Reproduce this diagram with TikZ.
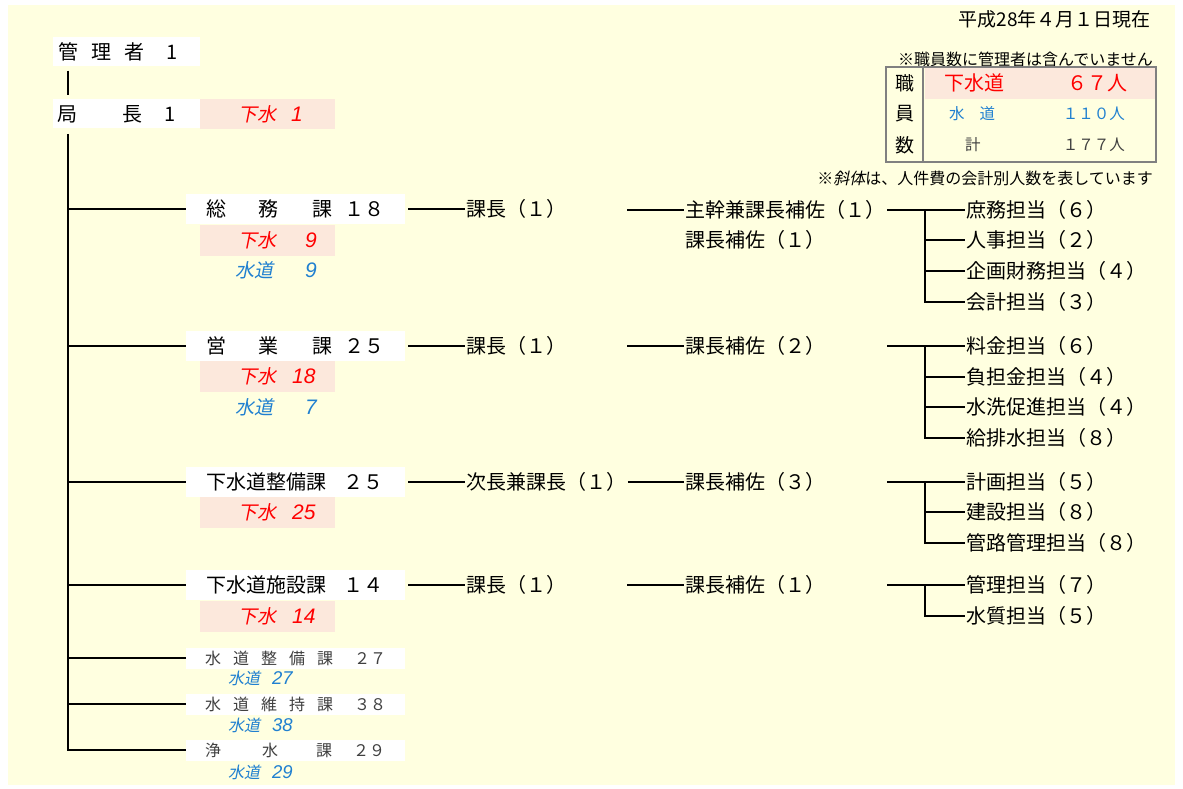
\documentclass[tikz,border=0pt]{standalone}
\usepackage{fontspec}
\setmainfont{Noto Sans CJK JP}
\newfontfamily\slfont{Noto Sans CJK JP}[FakeSlant=0.2]
\newfontfamily\numfont{Liberation Sans}
\usetikzlibrary{positioning}
\definecolor{bgyel}{HTML}{FFFFE0}
\definecolor{pinkbg}{HTML}{FCE8DC}
\definecolor{redtxt}{HTML}{FF0000}
\definecolor{bluetxt}{HTML}{2080D0}
\definecolor{graytxt}{HTML}{404040}
\definecolor{tblgray}{HTML}{808080}
\newcommand{\fs}[1]{\fontsize{#1}{#1}\selectfont}
\newcommand{\gn}[2][21]{{\numfont\itshape\fs{#1}#2}}

\begin{document}
\begin{tikzpicture}[x=1pt,y=-1pt,
  conn/.style={line width=2pt},
  topbox/.style={fill=white,anchor=west,minimum height=29pt,text width=147pt,inner sep=0pt,align=left,font=\fs{20}},
  secbox/.style={fill=white,anchor=west,minimum height=30pt,text width=219pt,inner sep=0pt,align=left,font=\fs{20}},
  smallbox/.style={fill=white,anchor=west,minimum height=21pt,text width=219pt,inner sep=0pt,align=left,font=\fs{16},text=graytxt},
  genbox/.style={fill=pinkbg,anchor=north west,minimum height=31pt,text width=135pt,inner sep=0pt,align=left,font=\slfont\fs{19},text=redtxt},
  suido/.style={anchor=west,inner sep=0pt,font=\slfont\fs{19},text=bluetxt},
  suido_s/.style={suido,font=\slfont\fs{16}},
  lbl/.style={anchor=west,inner sep=1pt,font=\fs{20}},
  note/.style={anchor=east,inner sep=0pt,font=\fs{16}},
  tcell/.style={inner sep=0pt,font=\fs{19}}]
\useasboundingbox (0,0) rectangle (1183,789);
\fill[white] (0,0) rectangle (1183,789);
\fill[bgyel] (8,5) rectangle (1175,785);

\node[note,font=\fs{19}] (date) at (1151,19) {平成28年４月１日現在};
\node[note] (note_1) at (1153,59) {※職員数に管理者は含んでいません};
\node[note] (note_2) at (1153,178) {※{\slfont 斜体}は、人件費の会計別人数を表しています};

\fill[pinkbg] (925,68) rectangle (1155,99);
\node[draw=tblgray,line width=2.5pt,minimum width=270pt,minimum height=95pt,inner sep=0pt] (tbl) at (1021,114.5) {};
\draw[tblgray,line width=2pt] ([xshift=38pt]tbl.north west) -- ([xshift=38pt]tbl.south west);
\node[tcell] (tbl_1) at (905,83) {職};
\node[tcell] (tbl_2) at (905,114) {員};
\node[tcell] (tbl_3) at (905,145) {数};
\node[tcell,anchor=west,text=redtxt,font=\fs{20}] (tbl_g) at (944,83) {下水道};
\node[tcell,anchor=east,text=redtxt,font=\fs{20}] (tbl_gn) at (1128,83) {６７人};
\node[tcell,anchor=west,text=bluetxt,font=\fs{15.5}] (tbl_s) at (949,114) {水\hspace{15pt}道};
\node[tcell,anchor=east,text=bluetxt,font=\fs{15.5}] (tbl_sn) at (1125,114) {１１０人};
\node[tcell,anchor=west,text=graytxt,font=\fs{15.5}] (tbl_k) at (965,145) {計};
\node[tcell,anchor=east,text=graytxt,font=\fs{15.5}] (tbl_kn) at (1125,145) {１７７人};

\node[topbox] (kanri) at (53,52) {\hspace*{5pt}管\hspace{13pt}理\hspace{13pt}者\hspace{22pt}1};
\node[topbox] (kyoku) at (53,114) {\hspace*{4pt}局\hspace{45pt}長\hspace{22pt}1};
\node[genbox,anchor=west,minimum height=30pt] (kyoku_g) at (200,114) {\hspace*{38pt}下水\hspace{15pt}\gn{1}};
\draw[conn] ([xshift=15pt,yshift=-4pt]kanri.south west) -- ([xshift=15pt,yshift=4pt]kyoku.north west);
\coordinate (trunk) at (68,134);

\node[secbox] (somu) at (186,209) {\hspace*{20pt}総\hspace{32pt}務\hspace{34pt}課\hspace{12pt}１８};
\node[genbox] (somu_g) at (200,225) {\hspace*{38pt}下水\hspace{29pt}\gn{9}};
\node[suido] (somu_s) at (235,270) {水道\hspace{32pt}\gn{9}};
\node[secbox] (eigyo) at (186,346) {\hspace*{20pt}営\hspace{32pt}業\hspace{34pt}課\hspace{12pt}２５};
\node[genbox] (eigyo_g) at (200,361) {\hspace*{38pt}下水\hspace{16pt}\gn{18}};
\node[suido] (eigyo_s) at (235,407) {水道\hspace{32pt}\gn{7}};
\node[secbox] (gseibi) at (186,482) {\hspace*{20pt}下水道整備課\hspace{17pt}２５};
\node[genbox] (gseibi_g) at (200,497) {\hspace*{38pt}下水\hspace{16pt}\gn{25}};
\node[secbox] (gshisetsu) at (186,585) {\hspace*{20pt}下水道施設課\hspace{17pt}１４};
\node[genbox] (gshisetsu_g) at (200,601) {\hspace*{38pt}下水\hspace{16pt}\gn{14}};
\node[smallbox] (sseibi) at (186,658) {\hspace*{19pt}水\hspace{12pt}道\hspace{12pt}整\hspace{12pt}備\hspace{12pt}課\hspace{21pt}２７};
\node[suido_s] (sseibi_s) at (228,678) {水道\hspace{12pt}\gn[18.5]{27}};
\node[smallbox] (siji) at (186,704) {\hspace*{19pt}水\hspace{12pt}道\hspace{12pt}維\hspace{12pt}持\hspace{12pt}課\hspace{21pt}３８};
\node[suido_s] (siji_s) at (228,725) {水道\hspace{12pt}\gn[18.5]{38}};
\node[smallbox] (jousui) at (186,750) {\hspace*{19pt}浄\hspace{41pt}水\hspace{38pt}課\hspace{21pt}２９};
\node[suido_s] (jousui_s) at (228,772) {水道\hspace{12pt}\gn[18.5]{29}};

\draw[conn] (trunk) |- (jousui.west);
\foreach \s in {somu,eigyo,gseibi,gshisetsu,sseibi,siji}
  \draw[conn] (trunk |- \s.west) -- (\s.west);

\node[lbl,right=60pt of somu] (somu_k) {課長（１）};
\node[lbl,right=60pt of eigyo] (eigyo_k) {課長（１）};
\node[lbl,right=60pt of gseibi] (gseibi_k) {次長兼課長（１）};
\node[lbl,right=60pt of gshisetsu] (gshisetsu_k) {課長（１）};
\foreach \s in {somu,eigyo,gseibi,gshisetsu}
  \draw[conn] ([xshift=3pt]\s.east) -- (\s_k.west);

\coordinate (colC) at (627,0);
\coordinate (colD) at (887,0);
\coordinate (colE) at (925,0);
\node[lbl] (somu_h) at (684,210) {主幹兼課長補佐（１）};
\node[lbl] (somu_h2) at (684,240) {課長補佐（１）};
\node[lbl] (eigyo_h) at (684,346) {課長補佐（２）};
\node[lbl] (gseibi_h) at (684,482) {課長補佐（３）};
\node[lbl] (gshisetsu_h) at (684,585) {課長補佐（１）};
\draw[conn] (colC |- somu_h) -- (somu_h.west);
\draw[conn] (colC |- eigyo_h) -- (eigyo_h.west);
\draw[conn] (gseibi_k.east) -- (gseibi_h.west);
\draw[conn] (colC |- gshisetsu_h) -- (gshisetsu_h.west);

\node[lbl] (somu_t1) at (965,210) {庶務担当（６）};
\node[lbl] (somu_t2) at (965,240) {人事担当（２）};
\node[lbl] (somu_t3) at (965,271) {企画財務担当（４）};
\node[lbl] (somu_t4) at (965,302) {会計担当（３）};
\node[lbl] (eigyo_t1) at (965,346) {料金担当（６）};
\node[lbl] (eigyo_t2) at (965,377) {負担金担当（４）};
\node[lbl] (eigyo_t3) at (965,407) {水洗促進担当（４）};
\node[lbl] (eigyo_t4) at (965,438) {給排水担当（８）};
\node[lbl] (gseibi_t1) at (965,482) {計画担当（５）};
\node[lbl] (gseibi_t2) at (965,512) {建設担当（８）};
\node[lbl] (gseibi_t3) at (965,543) {管路管理担当（８）};
\node[lbl] (gshisetsu_t1) at (965,585) {管理担当（７）};
\node[lbl] (gshisetsu_t2) at (965,616) {水質担当（５）};

\foreach \s/\n in {somu/4,eigyo/4,gseibi/3,gshisetsu/2}{
  \draw[conn] (colD |- \s_t1) -- (\s_t1.west);
  \foreach \i in {2,...,\n}
    \draw[conn] (colE |- \s_t1) |- (\s_t\i.west);
}
\end{tikzpicture}
\end{document}
